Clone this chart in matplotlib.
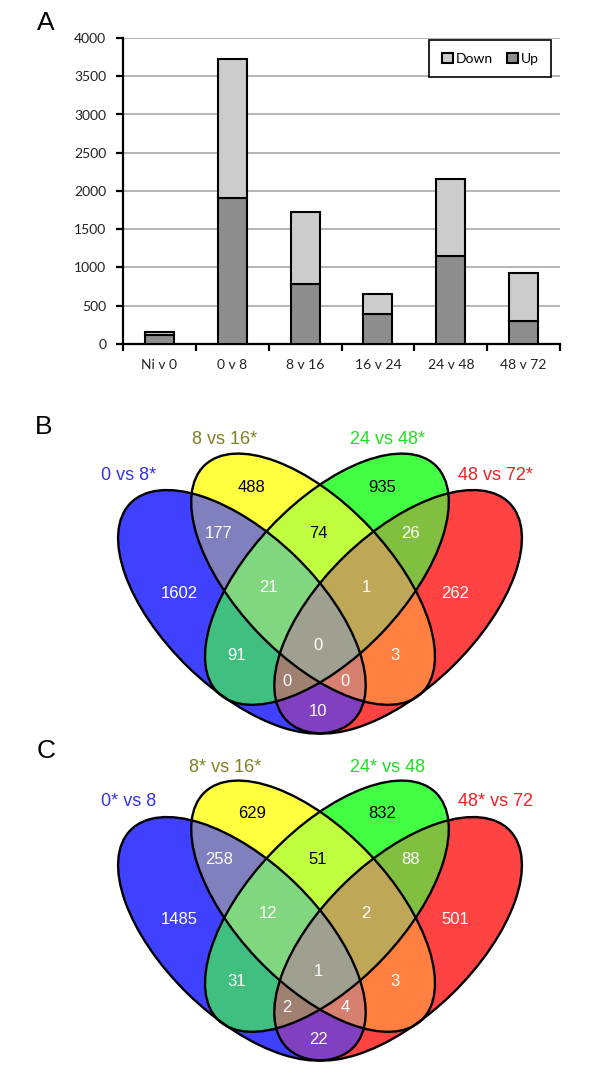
import numpy as np
import matplotlib.pyplot as plt
from matplotlib.colors import to_rgba
from matplotlib.patches import Ellipse, Patch

# ---------------- data ----------------
comparisons = ['Ni v 0', '0 v 8', '8 v 16', '16 v 24', '24 v 48', '48 v 72']
up = [115, 1913, 778, 391, 1148, 305]
down = [48, 1813, 948, 257, 1013, 619]

regions = ['A', 'B', 'C', 'D', 'AB', 'BC', 'CD', 'AD', 'AC', 'BD',
           'ABC', 'BCD', 'ABD', 'ACD', 'ABCD']
counts_b = [1602, 488, 935, 262, 177, 74, 26, 10, 91, 3, 21, 1, 0, 0, 0]
counts_c = [1485, 629, 832, 501, 258, 51, 88, 22, 31, 3, 12, 2, 4, 2, 1]
sets_b = ['0 vs 8*', '8 vs 16*', '24 vs 48*', '48 vs 72*']
sets_c = ['0* vs 8', '8* vs 16*', '24* vs 48', '48* vs 72']

# ---------------- venn layout (pixel units inside a panel) ----------------
mid = 320.0
# (cx, cy, semi-major, semi-minor, angle) for blue and yellow; green/red are mirrors
blue_shape = (241.9, 611.8, 155.6, 77.1, 44.2)
yellow_shape = (313.1, 579.2, 157.3, 76.8, 46.4)


def mirror(shape):
    cx, cy, a, b, ang = shape
    return (2 * mid - cx, cy, a, b, 180 - ang)


ellipses = [blue_shape, yellow_shape, mirror(yellow_shape), mirror(blue_shape)]
title_colors = ['#3333ee', '#808022', '#22dd22', '#ee2222']
region_colors = {
    'A': '#4040ff', 'B': '#ffff40', 'C': '#44ff44', 'D': '#ff4444',
    'AB': '#8080c0', 'BC': '#c0ff40', 'CD': '#80c040', 'AD': '#8040c0',
    'AC': '#40c080', 'BD': '#ff8040', 'ABC': '#80d880', 'BCD': '#c0a858',
    'ABD': '#d88070', 'ACD': '#a08070', 'ABCD': '#a0a090',
}
label_pos = {
    'A': (179, 593), 'B': (252, 487), 'C': (382, 487), 'D': (455, 593),
    'AB': (219, 533), 'BC': (318, 533), 'CD': (410, 533), 'AD': (318, 712),
    'AC': (237, 655), 'BD': (395, 655), 'ABC': (268, 587), 'BCD': (366, 587),
    'ABD': (345, 681), 'ACD': (287, 681), 'ABCD': (318, 645),
}
title_pos = [(129, 475), (225, 440), (388, 440), (495, 475)]
dark_text = ['B', 'C', 'BC']


def draw_venn(ax, counts, names):
    ax.set_xlim(0, 600)
    ax.set_ylim(745, 425)
    ax.axis('off')
    gx = np.arange(100, 540, 0.25)
    gy = np.arange(440, 745, 0.25)
    X, Y = np.meshgrid(gx, gy)
    inside = []
    for cx, cy, a, b, ang in ellipses:
        t = np.radians(ang)
        dx, dy = X - cx, Y - cy
        u = dx * np.cos(t) + dy * np.sin(t)
        v = -dx * np.sin(t) + dy * np.cos(t)
        inside.append((u / a) ** 2 + (v / b) ** 2 <= 1)
    img = np.zeros(X.shape + (4,))
    for key, col in region_colors.items():
        mask = np.ones(X.shape, bool)
        for i, letter in enumerate('ABCD'):
            mask &= inside[i] if letter in key else ~inside[i]
        img[mask] = to_rgba(col)
    ax.imshow(img, extent=(gx[0], gx[-1], gy[-1], gy[0]), origin='upper',
              interpolation='bilinear', zorder=1)
    for cx, cy, a, b, ang in ellipses:
        ax.add_patch(Ellipse((cx, cy), 2 * a, 2 * b, angle=ang, fill=False,
                             edgecolor='black', linewidth=1.7, zorder=2))
    for key, n in zip(regions, counts):
        x, y = label_pos[key]
        ax.text(x, y, str(n), ha='center', va='center', fontsize=12,
                family='Liberation Sans',
                color='black' if key in dark_text else 'white', zorder=3)
    for (x, y), name, col in zip(title_pos, names, title_colors):
        ax.text(x, y, name, ha='center', va='center', fontsize=13,
                family='Liberation Sans', color=col)


plt.rcParams['font.family'] = 'Lato'
fig = plt.figure(figsize=(6, 10.72), dpi=100)

# ---------------- panel A ----------------
ax = fig.add_axes([123 / 600, 1 - 344 / 1072, (560 - 123) / 600, (344 - 38) / 1072])
x = np.arange(len(comparisons))
ax.bar(x, up, width=0.4, color='#8e8e8e', edgecolor='black', linewidth=1.5, label='Up', zorder=3)
ax.bar(x, down, bottom=up, width=0.4, color='#cccccc', edgecolor='black', linewidth=1.5,
       label='Down', zorder=3)
ax.set_xlim(-0.5, len(comparisons) - 0.5)
ax.set_ylim(0, 4000)
ax.set_yticks(np.arange(0, 4001, 500))
ax.yaxis.grid(True, color='#a8a8a8', linewidth=1.2)
ax.set_axisbelow(True)
for s in ['top', 'right']:
    ax.spines[s].set_visible(False)
for s in ['left', 'bottom']:
    ax.spines[s].set_linewidth(1.6)
ax.set_xticks(x)
ax.set_xticklabels(comparisons)
ax.set_xticks(np.arange(-0.5, len(comparisons)), minor=True)
ax.tick_params(axis='x', which='major', length=0, pad=11, labelsize=10, colors='#222222')
ax.tick_params(axis='x', which='minor', length=5, width=1.6)
ax.tick_params(axis='y', length=5, width=1.6, pad=7, labelsize=10, labelcolor='#222222')
handles = [Patch(facecolor='#cccccc', edgecolor='black', linewidth=1.5),
           Patch(facecolor='#8e8e8e', edgecolor='black', linewidth=1.5)]
leg = ax.legend(handles, ['Down', 'Up'], ncol=2, loc='upper right',
                bbox_to_anchor=((551 - 123) / 437, (344 - 40) / 306), borderaxespad=0,
                fontsize=10, handlelength=0.8, handleheight=0.8, handletextpad=0.2,
                columnspacing=1.0, borderpad=0.9, fancybox=False, framealpha=1,
                edgecolor='black')
leg.get_frame().set_linewidth(1.2)

fig.text(37 / 600, 1 - 23 / 1072, 'A', fontsize=19, family='Liberation Sans', va='center')
fig.text(35 / 600, 1 - 427 / 1072, 'B', fontsize=19, family='Liberation Sans', va='center')
fig.text(37 / 600, 1 - 751 / 1072, 'C', fontsize=19, family='Liberation Sans', va='center')

# ---------------- panels B and C ----------------
ax_b = fig.add_axes([0, 1 - 745 / 1072, 1, 320 / 1072])
draw_venn(ax_b, counts_b, sets_b)
ax_c = fig.add_axes([0, 1 - (745 + 327) / 1072, 1, 320 / 1072])
draw_venn(ax_c, counts_c, sets_c)

fig.savefig('out.png', dpi=100)
